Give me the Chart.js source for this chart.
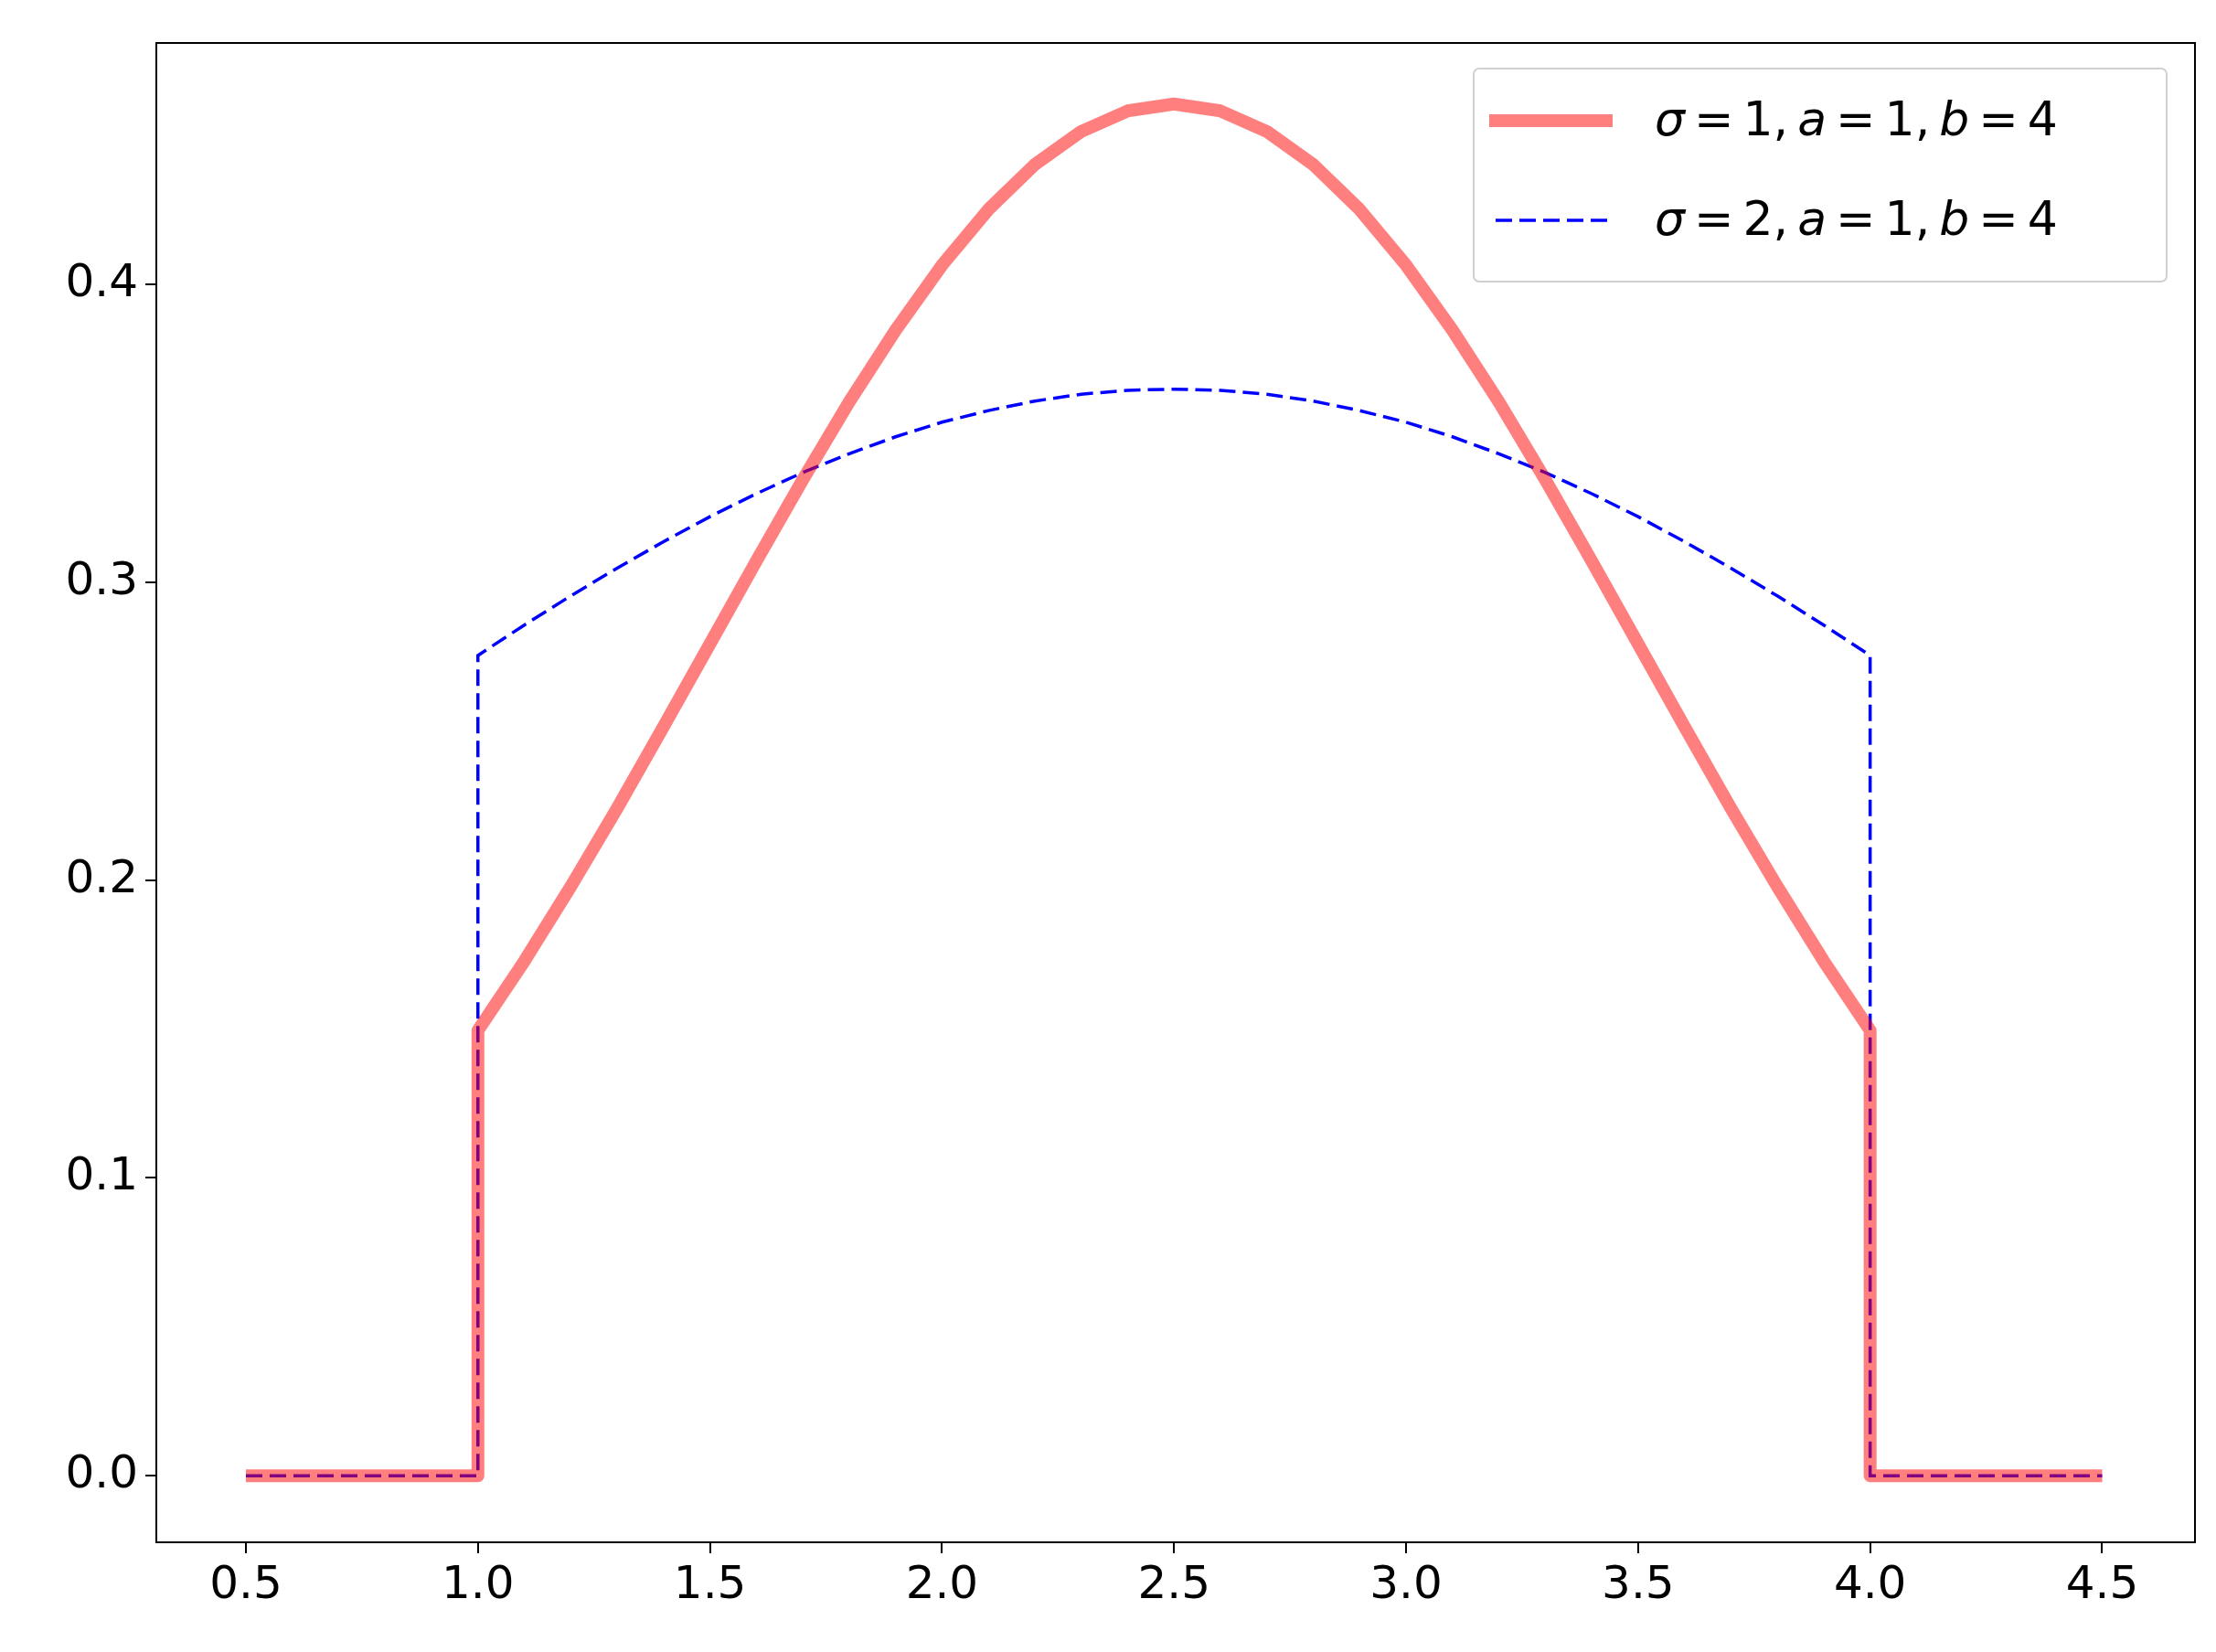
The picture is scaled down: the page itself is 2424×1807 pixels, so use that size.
<!DOCTYPE html>
<html><head><meta charset="utf-8">
<script src="https://cdn.jsdelivr.net/npm/chart.js@4/dist/chart.umd.min.js"></script>
<style>html,body{margin:0;padding:0;background:#fff}#w{width:2424px;height:1807px}</style>
</head><body><div id="w"><canvas id="c"></canvas></div>
<script>
const seriesLabels = ["σ = 1, a = 1, b = 4", "σ = 2, a = 1, b = 4"];
const xInner = [1.0,1.1,1.2,1.3,1.4,1.5,1.6,1.7,1.8,1.9,2.0,2.1,2.2,2.3,2.4,2.5,2.6,2.7,2.8,2.9,3.0,3.1,3.2,3.3,3.4,3.5,3.6,3.7,3.8,3.9,4.0];
const sigma1Half = [0.1495,0.1728,0.1978,0.2241,0.2515,0.2793,0.3071,0.3344,0.3605,0.3846,0.4064,0.4251,0.4402,0.4513,0.4582,0.4605];
const sigma2Half = [0.2754,0.2856,0.2954,0.3047,0.3136,0.3220,0.3297,0.3368,0.3431,0.3488,0.3537,0.3576,0.3608,0.3631,0.3644,0.3648];
const xTicks = [0.5,1.0,1.5,2.0,2.5,3.0,3.5,4.0,4.5];
const yTicks = [0.0,0.1,0.2,0.3,0.4];

function build(half){
  const vals = half.concat(half.slice(0,-1).reverse());
  const pts = [{x:0.5,y:0},{x:1.0,y:0}];
  xInner.forEach((x,i)=>pts.push({x:x,y:vals[i]}));
  pts.push({x:4.0,y:0},{x:4.5,y:0});
  return pts;
}
const red='rgba(255,0,0,0.5)', blue='#0000ff';
function mathText(c,str,x,y){
  // italic for letters, upright for digits/symbols
  str.split(/(\s+)/).forEach(tok=>{
    if(/^\s+$/.test(tok)){x+=tok.length*10;return;}
    for(const ch of tok){
      const it=/[a-zσ]/.test(ch);
      c.font=(it?'italic ':'')+'52px "DejaVu Sans"';
      c.fillText(ch,x,y);x+=c.measureText(ch).width;
    }
  });
}
const frame={id:'frame',afterDraw(ch){
  const c=ch.ctx,a=ch.chartArea;
  c.save();c.strokeStyle='#000';c.lineWidth=2;c.strokeRect(a.left,a.top,a.right-a.left,a.bottom-a.top);
  const bx=1612,by=75,bw=758,bh=233;
  c.fillStyle='rgba(255,255,255,0.8)';c.strokeStyle='#d0d0d0';c.lineWidth=2;
  c.beginPath();c.roundRect(bx,by,bw,bh,6);c.fill();c.stroke();
  c.lineWidth=14;c.strokeStyle=red;c.beginPath();c.moveTo(1629,132);c.lineTo(1764,132);c.stroke();
  c.lineWidth=3.5;c.strokeStyle=blue;c.setLineDash([18,8]);c.beginPath();c.moveTo(1636,241);c.lineTo(1764,241);c.stroke();c.setLineDash([]);
  c.fillStyle='#000';c.textBaseline='middle';
  mathText(c,seriesLabels[0],1810,134);mathText(c,seriesLabels[1],1810,243);
  c.restore();
}};
new Chart(document.getElementById('c'),{
  type:'scatter',
  data:{datasets:[
    {label:seriesLabels[0],data:build(sigma1Half),showLine:true,borderColor:red,borderWidth:14,pointRadius:0,tension:0,borderJoinStyle:'round'},
    {label:seriesLabels[1],data:build(sigma2Half),showLine:true,borderColor:blue,borderWidth:3.5,borderDash:[18,8],pointRadius:0,tension:0}
  ]},
  options:{responsive:true,maintainAspectRatio:false,animation:false,
    layout:{padding:{top:47,right:23,left:0,bottom:0}},
    plugins:{legend:{display:false},tooltip:{enabled:false}},
    scales:{
      x:{type:'linear',min:0.307,max:4.7,
        afterBuildTicks(s){s.ticks=xTicks.map(v=>({value:v}));},
        afterFit(s){s.height=120;},
        grid:{display:true,drawOnChartArea:false,drawTicks:true,tickLength:12,color:'#000',lineWidth:2},
        border:{display:true,color:'#000',width:2},
        ticks:{color:'#000',font:{family:'DejaVu Sans',size:50},padding:6,maxRotation:0,callback:v=>v.toFixed(1)}},
      y:{type:'linear',min:-0.0223,max:0.481,
        afterBuildTicks(s){s.ticks=yTicks.map(v=>({value:v}));},
        afterFit(s){s.width=171;},
        grid:{display:true,drawOnChartArea:false,drawTicks:true,tickLength:12,color:'#000',lineWidth:2},
        border:{display:true,color:'#000',width:2},
        ticks:{color:'#000',font:{family:'DejaVu Sans',size:50},padding:8,callback:v=>v.toFixed(1)}}
    }},
  plugins:[frame]
});
</script></body></html>
